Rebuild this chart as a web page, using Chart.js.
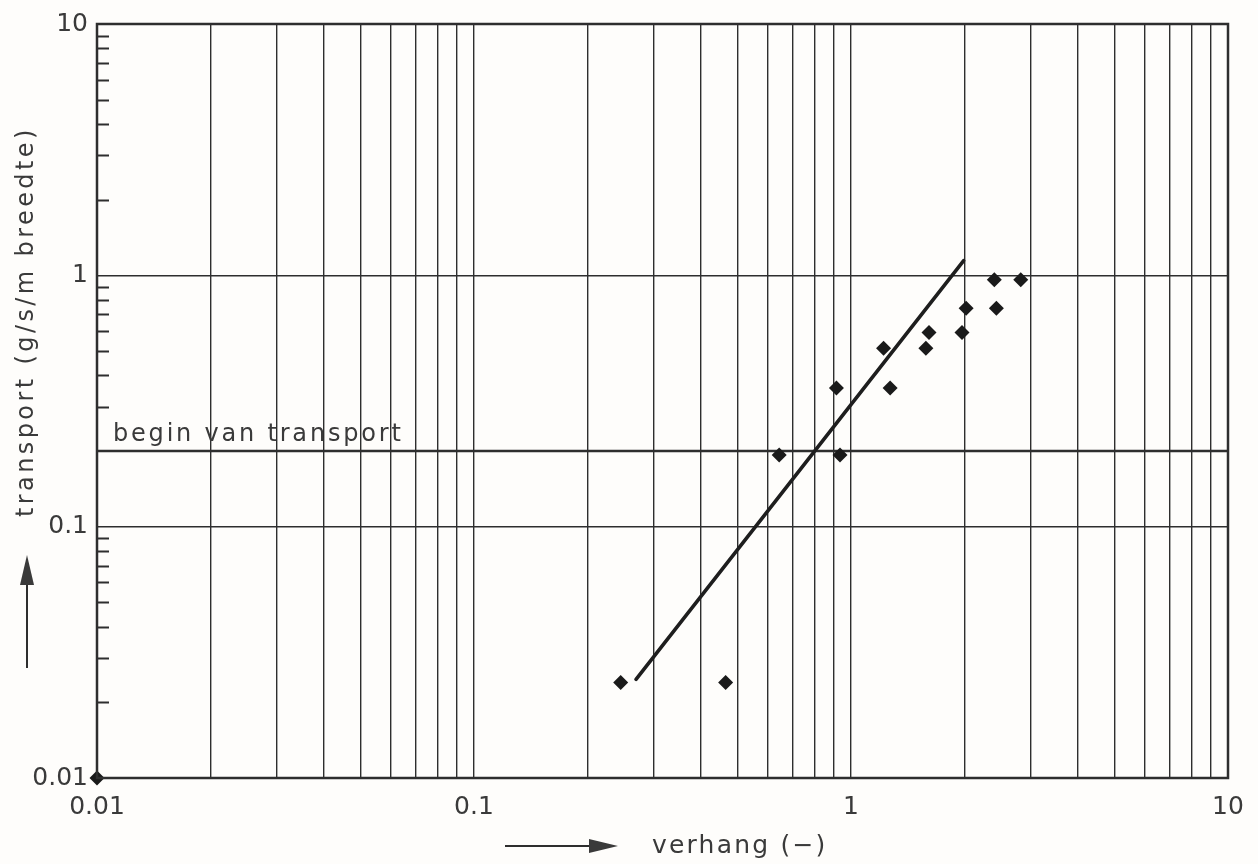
<!DOCTYPE html>
<html>
<head>
<meta charset="utf-8">
<title>transport tegen verhang</title>
<script src="https://cdn.jsdelivr.net/npm/chart.js@4.4.1/dist/chart.umd.min.js"></script>
<style>
  html, body { margin: 0; padding: 0; background: #fefdfb; }
  #wrap { width: 1258px; height: 864px; }
</style>
</head>
<body>
<div id="wrap"><canvas id="c" width="1258" height="864"></canvas></div>
<script>
// Measured points: slope (verhang, -) vs sediment transport (g/s/m width)
const verhang   = [0.01, 0.245, 0.465, 0.645, 0.935, 0.915, 1.22, 1.27, 1.58, 1.61, 1.97, 2.02, 2.43, 2.40, 2.82];
const transport = [0.01, 0.024, 0.024, 0.193, 0.193, 0.356, 0.513, 0.356, 0.513, 0.592, 0.592, 0.74, 0.74, 0.96, 0.96];

// Fitted trend line (end points)
const fitX = [0.269, 1.99];
const fitY = [0.0247, 1.145];

// Threshold level: begin van transport
const beginTransport = 0.2;

// Log axis ticks
const xTicks = [0.01,0.02,0.03,0.04,0.05,0.06,0.07,0.08,0.09,
                0.1,0.2,0.3,0.4,0.5,0.6,0.7,0.8,0.9,
                1,2,3,4,5,6,7,8,9,10];
const yTicks = [0.01,0.1,1,10];
const yMinorTicks = [0.02,0.03,0.04,0.05,0.06,0.07,0.08,0.09,
                     0.3,0.4,0.5,0.6,0.7,0.8,0.9,
                     2,3,4,5,6,7,8,9];
const decadeValues = [0.01,0.1,1,10];
const decadeLabels = ['0.01','0.1','1','10'];

const INK = '#2e2e2e';
const TEXT = '#3a3a3a';
const FONT = '"DejaVu Sans", sans-serif';

function decadeLabel(v) {
  const i = decadeValues.findIndex(d => Math.abs(d - v) < d * 1e-6);
  return i >= 0 ? decadeLabels[i] : '';
}

const points = verhang.map((x, i) => ({ x: x, y: transport[i] }));
const fitLine = fitX.map((x, i) => ({ x: x, y: fitY[i] }));
const beginLine = [{ x: xTicks[0], y: beginTransport }, { x: xTicks[xTicks.length - 1], y: beginTransport }];

// Frame, inner minor ticks on the left axis, annotations and axis titles with arrows
const decorations = {
  id: 'decorations',
  afterDatasetsDraw(chart) {
    const { ctx, chartArea: a, scales } = chart;
    const y = scales.y;
    ctx.save();
    ctx.strokeStyle = INK;
    ctx.lineWidth = 2.5;
    ctx.strokeRect(a.left, a.top, a.right - a.left, a.bottom - a.top);

    ctx.lineWidth = 2;
    ctx.beginPath();
    yMinorTicks.forEach(v => {
      const py = Math.round(y.getPixelForValue(v)) + 0.5;
      ctx.moveTo(a.left, py);
      ctx.lineTo(a.left + 12, py);
    });
    ctx.stroke();

    // label above the threshold line
    ctx.fillStyle = TEXT;
    ctx.font = '24px ' + FONT;
    ctx.letterSpacing = '2.8px';
    ctx.textAlign = 'left';
    ctx.textBaseline = 'alphabetic';
    ctx.fillText('begin van transport', a.left + 16, y.getPixelForValue(beginTransport) - 10);

    // x-axis title with arrow
    const tx = 505, ty = 846;
    ctx.lineWidth = 2;
    ctx.beginPath();
    ctx.moveTo(tx, ty);
    ctx.lineTo(tx + 92, ty);
    ctx.stroke();
    ctx.beginPath();
    ctx.moveTo(tx + 113, ty);
    ctx.lineTo(tx + 84, ty - 7);
    ctx.lineTo(tx + 84, ty + 7);
    ctx.closePath();
    ctx.fill();
    ctx.font = '25px ' + FONT;
    ctx.letterSpacing = '2.2px';
    ctx.textBaseline = 'middle';
    ctx.fillText('verhang (\u2212)', 652, ty);

    // y-axis title with arrow
    const ax = 27, ay = 668;
    ctx.beginPath();
    ctx.moveTo(ax, ay);
    ctx.lineTo(ax, ay - 88);
    ctx.stroke();
    ctx.beginPath();
    ctx.moveTo(ax, ay - 113);
    ctx.lineTo(ax - 7, ay - 83);
    ctx.lineTo(ax + 7, ay - 83);
    ctx.closePath();
    ctx.fill();
    ctx.font = '24px ' + FONT;
    ctx.letterSpacing = '3.4px';
    ctx.translate(ax, 517);
    ctx.rotate(-Math.PI / 2);
    ctx.textAlign = 'left';
    ctx.textBaseline = 'middle';
    ctx.fillText('transport (g/s/m breedte)', 0, 0);
    ctx.restore();
  }
};

new Chart(document.getElementById('c'), {
  type: 'scatter',
  data: {
    datasets: [
      {
        type: 'line',
        data: beginLine,
        borderColor: INK,
        borderWidth: 2.6,
        pointRadius: 0,
        order: 3
      },
      {
        type: 'line',
        data: fitLine,
        borderColor: '#1e1e1e',
        borderWidth: 3.6,
        borderCapStyle: 'round',
        pointRadius: 0,
        order: 2
      },
      {
        data: points,
        pointStyle: 'rectRot',
        pointRadius: 7.5,
        backgroundColor: '#1a1a1a',
        borderColor: '#1a1a1a',
        borderWidth: 0,
        clip: false,
        order: 1
      }
    ]
  },
  options: {
    responsive: false,
    animation: false,
    layout: { padding: { top: 24, right: 30, left: 0, bottom: 0 } },
    plugins: {
      legend: { display: false },
      tooltip: { enabled: false }
    },
    scales: {
      x: {
        type: 'logarithmic',
        min: 0.01,
        max: 10,
        afterBuildTicks: s => { s.ticks = xTicks.map(v => ({ value: v })); },
        afterFit: s => { s.height = 86; },
        border: { display: false },
        grid: { color: INK, lineWidth: 1.4, drawTicks: false },
        ticks: {
          autoSkip: false,
          maxRotation: 0,
          padding: 14,
          color: TEXT,
          font: { family: FONT, size: 25 },
          callback: v => decadeLabel(v)
        }
      },
      y: {
        type: 'logarithmic',
        min: 0.01,
        max: 10,
        afterBuildTicks: s => { s.ticks = yTicks.map(v => ({ value: v })); },
        afterFit: s => { s.width = 97; },
        border: { display: false },
        grid: { color: INK, lineWidth: 1.4, drawTicks: false },
        ticks: {
          autoSkip: false,
          padding: 9,
          color: TEXT,
          font: { family: FONT, size: 25 },
          callback: v => decadeLabel(v)
        }
      }
    }
  },
  plugins: [decorations]
});
</script>
</body>
</html>
